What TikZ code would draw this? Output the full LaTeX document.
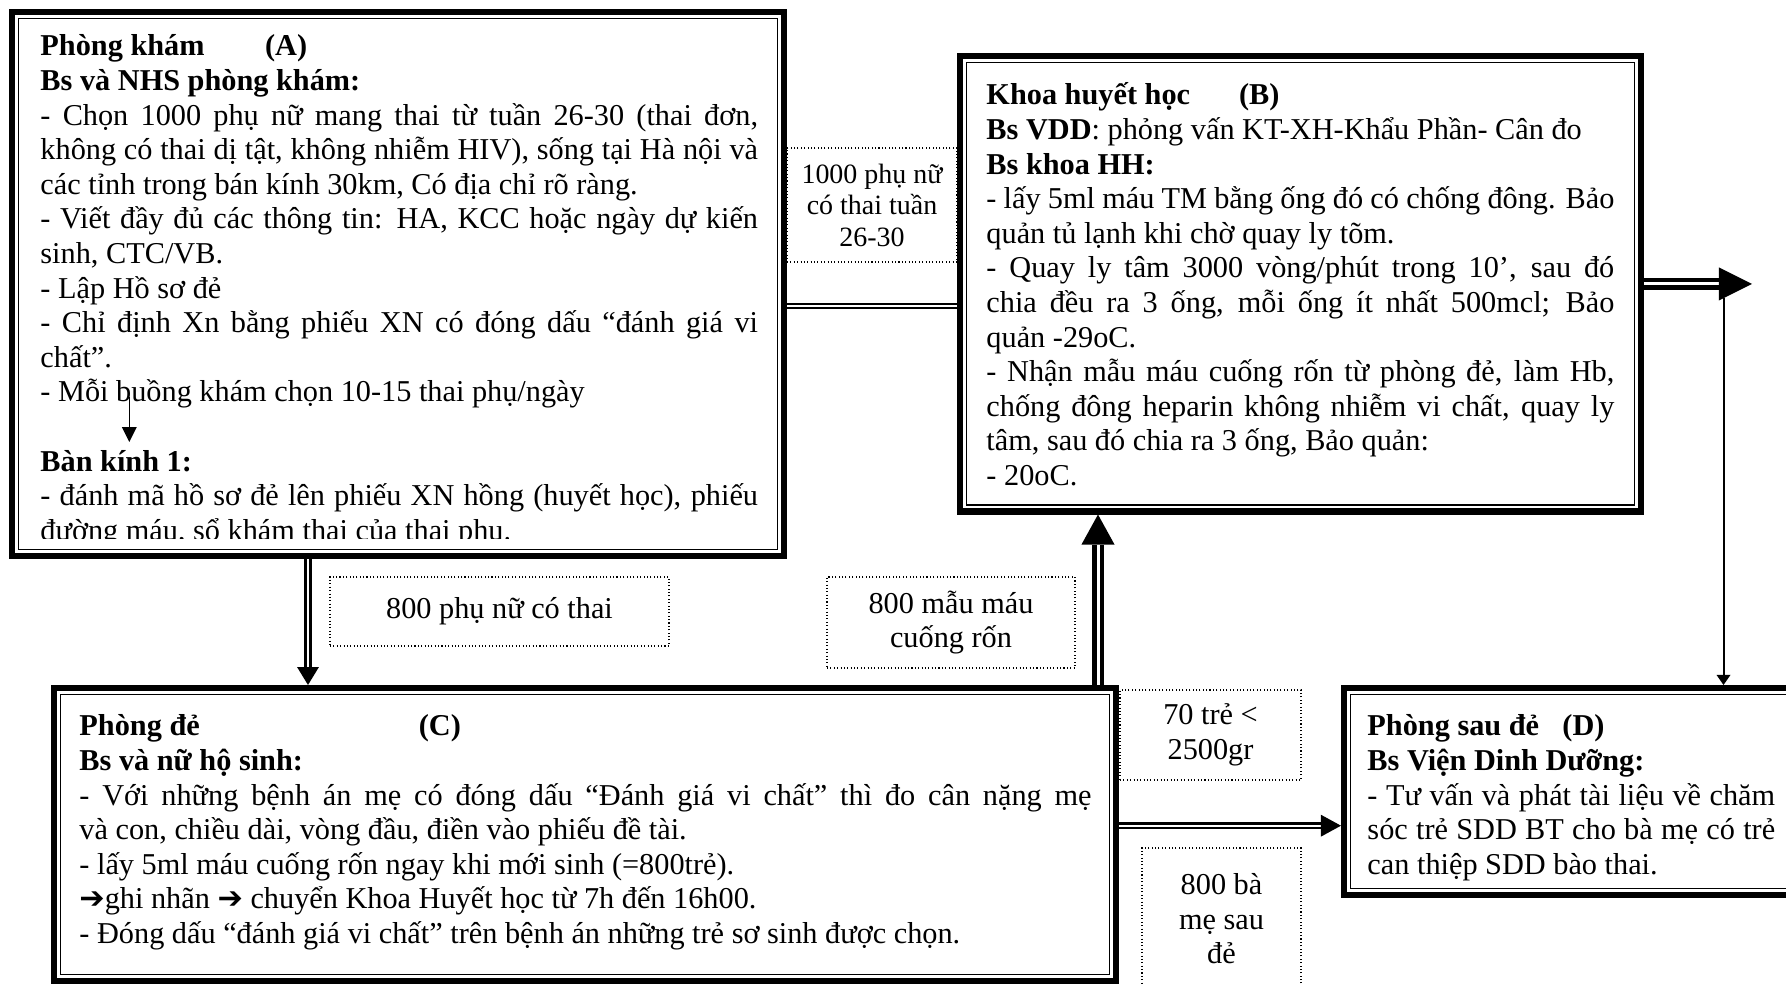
\documentclass[tikz,border=0pt]{standalone}
\usepackage{fontspec}
\setmainfont{Liberation Serif}
\newfontfamily\arrowfont{DejaVu Sans}
\usetikzlibrary{arrows.meta}
\setlength{\parindent}{0pt}

% thin inner line of a thick-thin frame
\newcommand{\innerframe}[1]{%
  \draw[line width=0.65pt] ([shift={(4.1pt,-4.1pt)}]#1.north west)
    rectangle ([shift={(-4.1pt,4.1pt)}]#1.south east);}
\newcommand{\harrow}{{\arrowfont\bfseries ➔}}

\begin{document}
\begin{tikzpicture}[x=0.4292pt,y=-0.4292pt,
  roombox/.style={draw, line width=2.6pt, inner sep=0pt},
  txt/.style={anchor=base west, inner sep=0pt, align=justify,
    font=\fontsize{13}{14.85}\selectfont},
  lbl/.style={draw, densely dotted, line width=0.45pt, align=center,
    inner sep=0pt, font=\fontsize{13}{14.85}\selectfont},
  dline/.style={double, line width=#1, double distance=0.75*#1}]

% Page (box D runs over the right edge)
\clip (0,0) rectangle (1786,984);

% Geometry constants (pixels of the original)
\def\px{0.4292pt}

% Labels on the connectors
\node[lbl, minimum width=170*\px, minimum height=114*\px,
  font=\fontsize{12}{13.5}\selectfont] (Lwomen) at (872,205)
  {1000 phụ nữ\\có thai tuần\\26-30};
\node[lbl, minimum width=339*\px, minimum height=69*\px] (Lpreg) at (499.5,611.5)
  {800 phụ nữ có thai};
\node[lbl, minimum width=248*\px, minimum height=91*\px] (Lcord) at (951,622.5)
  {800 mẫu máu\\cuống rốn};
\node[lbl, minimum width=181*\px, minimum height=90*\px] (Llow) at (1210.5,735)
  {70 trẻ <\\2500gr};
\node[lbl, minimum width=159*\px, minimum height=142*\px] (Lmoth) at (1221.5,919)
  {800 bà\\mẹ sau\\đẻ};

% Rooms
\node[roombox, minimum width=772*\px, minimum height=544*\px] (A) at (398,284) {};
\node[roombox, minimum width=681*\px, minimum height=455.5*\px] (B) at (1300.5,283.75) {};
\node[roombox, minimum width=1062*\px, minimum height=293*\px] (C) at (585,834.5) {};
\node[roombox, minimum width=456*\px, minimum height=207*\px] (D) at (1572,791.5) {};
\foreach \room in {A,B,C,D} {\innerframe{\room}}

% Room A (last line is cut by the frame)
\begin{scope}
\clip (20,20) rectangle (776,539);
\node[txt, text width=308pt] (Atxt) at (40,56) {%
\textbf{Phòng khám\hspace{26pt}(A)}\\
\textbf{Bs và NHS phòng khám:}\\
- Chọn 1000 phụ nữ mang thai từ tuần 26-30 (thai đơn, \linebreak
không có thai dị tật, không nhiễm HIV), sống tại Hà nội và \linebreak
các tỉnh trong bán kính 30km, Có địa chỉ rõ ràng.\\
- Viết đầy đủ các thông tin: HA, KCC hoặc ngày dự kiến \linebreak
sinh, CTC/VB.\\
- Lập Hồ sơ đẻ\\
- Chỉ định Xn bằng phiếu XN có đóng dấu “đánh giá vi \linebreak
chất”.\\
- Mỗi buồng khám chọn 10-15 thai phụ/ngày\\[14.85pt]
\textbf{Bàn kính 1:}\\
- đánh mã hồ sơ đẻ lên phiếu XN hồng (huyết học), phiếu \linebreak
đường máu, sổ khám thai của thai phụ.};
\end{scope}

% Room B
\node[txt, text width=269.5pt] (Btxt) at (986,105) {%
\textbf{Khoa huyết học\hspace{21pt}(B)}\\
\textbf{Bs VDD}: phỏng vấn KT-XH-Khẩu Phần- Cân đo\\
\textbf{Bs khoa HH:}\\
- lấy 5ml máu TM bằng ống đó có chống đông. Bảo \linebreak
quản tủ lạnh khi chờ quay ly tõm.\\
- Quay ly tâm 3000 vòng/phút trong 10’, sau đó \linebreak
chia đều ra 3 ống, mỗi ống ít nhất 500mcl; Bảo \linebreak
quản -29oC.\\
- Nhận mẫu máu cuống rốn từ phòng đẻ, làm Hb, \linebreak
chống đông heparin không nhiễm vi chất, quay ly \linebreak
tâm, sau đó chia ra 3 ống, Bảo quản:\\
- 20oC.};

% Room C
\node[txt, text width=434.4pt] (Ctxt) at (79,736) {%
\textbf{Phòng đẻ\hspace{94pt}(C)}\\
\textbf{Bs và nữ hộ sinh:}\\
- Với những bệnh án mẹ có đóng dấu “Đánh giá vi chất” thì đo cân nặng mẹ \linebreak
và con, chiều dài, vòng đầu, điền vào phiếu đề tài.\\
- lấy 5ml máu cuống rốn ngay khi mới sinh (=800trẻ).\\
\harrow ghi nhãn \harrow{} chuyển Khoa Huyết học từ 7h đến 16h00.\\
- Đóng dấu “đánh giá vi chất” trên bệnh án những trẻ sơ sinh được chọn.};

% Room D
\node[txt, text width=175pt] (Dtxt) at (1367,736) {%
\textbf{Phòng sau đẻ\hspace{10pt}(D)}\\
\textbf{Bs Viện Dinh Dưỡng:}\\
- Tư vấn và phát tài liệu về chăm \linebreak
sóc trẻ SDD BT cho bà mẹ có trẻ \linebreak
can thiệp SDD bào thai.};

% Connectors
\draw[dline=0.95pt] (A.east |- 0,305.7) -- (B.west |- 0,305.7);
\draw[dline=1.2pt, -{Triangle[length=7.7pt,width=9.4pt,line width=0pt]}]
  (308,0 |- A.south) -- (308,0 |- C.north);
\draw[dline=1.72pt, -{Triangle[length=12.9pt,width=14.2pt,line width=0pt]}]
  (1098,0 |- C.north) -- (1098,0 |- B.south);
\draw[dline=1.03pt, -{Triangle[length=8.6pt,width=9.4pt,line width=0pt]}]
  (C.east |- 0,825.7) -- (D.west |- 0,825.7);

% Out of B, and down to D
\coordinate (Bout) at (1752,284);
\coordinate (turn) at (1723.5,298);
\draw[dline=1.72pt, -{Triangle[length=14.2pt,width=14.2pt,line width=0pt]}]
  (B.east |- Bout) -- (Bout);
\draw[line width=0.86pt, -{Triangle[length=4.3pt,width=6pt,line width=0pt]}]
  (turn) -- (turn |- D.north);

% Small arrow inside A
\coordinate (moi) at (129.3,397);
\coordinate (bk1) at (129.3,442);
\draw[line width=0.65pt, -{Triangle[length=6.4pt,width=6.4pt,line width=0pt]}]
  (moi) -- (bk1);

\end{tikzpicture}
\end{document}
